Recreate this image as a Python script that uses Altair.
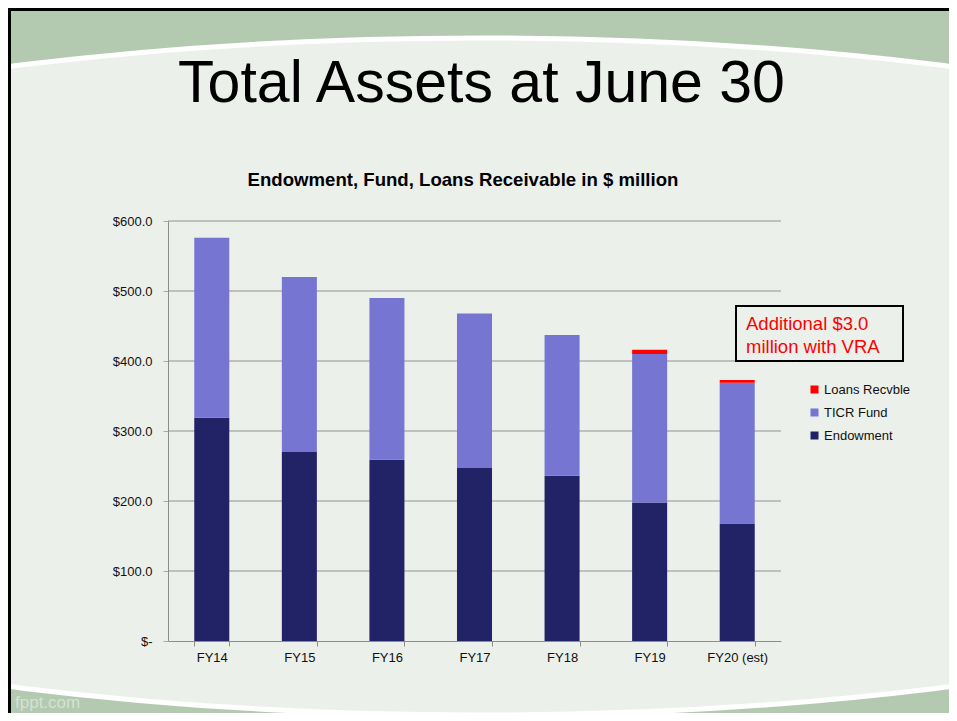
import altair as alt
import pandas as pd

FONT = "Liberation Sans, Arial, sans-serif"

years = ["FY14", "FY15", "FY16", "FY17", "FY18", "FY19", "FY20 (est)"]
endowment = [319, 270, 259, 247, 236, 198, 168]
ticr_fund = [257, 250, 231, 221, 201, 212, 201]
loans_recv = [0, 0, 0, 0, 0, 6, 4]
series = ["Endowment", "TICR Fund", "Loans Recvble"]
series_colors = ["#222266", "#7676D2", "#FF0000"]
y_ticks = [0, 100, 200, 300, 400, 500, 600]

rows = []
for i, yr in enumerate(years):
    for j, vals in enumerate([endowment, ticr_fund, loans_recv]):
        if vals[i] > 0:
            rows.append({"year": yr, "series": series[j], "value": vals[i], "order": j})
df = pd.DataFrame(rows)
one = pd.DataFrame({"a": [0]})

W, H = 613, 420
LIGHT = "#ECF0EB"
GREEN = "#B3C9B0"

ELLIPSE = ("M-3.456,0C-3.456,-0.5523,-1.909,-1,0,-1C1.909,-1,3.456,-0.5523,3.456,0"
           "C3.456,0.5523,1.909,1,0,1C-1.909,1,-3.456,0.5523,-3.456,0Z")

y_scale = alt.Scale(domain=[0, 600], nice=False)
y_axis = alt.Axis(title=None, values=y_ticks,
                  labelExpr="datum.value == 0 ? '$-' : '$' + format(datum.value, '.1f')",
                  labelFont=FONT, labelFontSize=13, labelColor="#111111",
                  labelPadding=11, tickSize=5, tickColor="#A8A8A8",
                  domainColor="#8C8C8C", grid=False, zindex=1)

backdrop = alt.Chart(one).mark_point(
    shape=ELLIPSE, size=458329, filled=True, fill=LIGHT, stroke="white",
    strokeWidth=5, opacity=1
).encode(x=alt.value(312), y=alt.value(155.5))

frame_top = alt.Chart(one).mark_rule(color="black", strokeWidth=3).encode(
    x=alt.value(-160), x2=alt.value(781), y=alt.value(-211.5))
frame_left = alt.Chart(one).mark_rule(color="black", strokeWidth=3).encode(
    x=alt.value(-158.5), y=alt.value(-213), y2=alt.value(492))

grid = alt.Chart(pd.DataFrame({"value": y_ticks[1:]})).mark_rule(
    color="#B0B0B0", strokeWidth=1.5
).encode(y=alt.Y("value:Q", axis=y_axis, scale=y_scale))

bars = alt.Chart(df).mark_bar().encode(
    x=alt.X("year:N", sort=years,
            scale=alt.Scale(paddingInner=0.6, paddingOuter=0.3),
            axis=alt.Axis(title=None, labelAngle=0, labelFont=FONT, labelFontSize=13,
                          labelColor="#111111", labelPadding=5, tickSize=5,
                          tickColor="#8C8C8C", domainColor="#8C8C8C", tickBand="extent",
                          grid=False, zindex=1)),
    y=alt.Y("value:Q", stack="zero", scale=y_scale, axis=y_axis),
    color=alt.Color("series:N",
                    scale=alt.Scale(domain=series[::-1], range=series_colors[::-1]),
                    legend=alt.Legend(title=None, orient="none", legendX=640, legendY=162,
                                      symbolType="square", symbolSize=64,
                                      symbolStrokeWidth=0, labelFont=FONT,
                                      labelFontSize=13, labelColor="#111111",
                                      rowPadding=9, labelOffset=3, padding=0)),
    order=alt.Order("order:Q", sort="ascending"),
)

note_box = alt.Chart(one).mark_rect(fill=LIGHT, stroke="black", strokeWidth=2).encode(
    x=alt.value(568), x2=alt.value(735), y=alt.value(85), y2=alt.value(140))
note1 = alt.Chart(one).mark_text(text="Additional $3.0", font=FONT, fontSize=18.5,
                                 color="#FF0000", align="left", baseline="alphabetic").encode(
    x=alt.value(578), y=alt.value(109))
note2 = alt.Chart(one).mark_text(text="million with VRA", font=FONT, fontSize=18.5,
                                 color="#FF0000", align="left", baseline="alphabetic").encode(
    x=alt.value(578), y=alt.value(131.5))

slide_title = alt.Chart(one).mark_text(text="Total Assets at June 30", font=FONT, fontSize=59,
                                       color="#000000", align="center",
                                       baseline="alphabetic").encode(
    x=alt.value(313.5), y=alt.value(-119))
chart_title = alt.Chart(one).mark_text(text="Endowment, Fund, Loans Receivable in $ million",
                                       font=FONT, fontSize=18.6, fontWeight="bold",
                                       color="#000000", align="center",
                                       baseline="alphabetic").encode(
    x=alt.value(295), y=alt.value(-35))
brand = alt.Chart(one).mark_text(text="fppt.com", font=FONT, fontSize=17,
                                 color="#D4E2D2", align="left", baseline="alphabetic").encode(
    x=alt.value(-153), y=alt.value(487))

chart = alt.layer(
    backdrop, frame_top, frame_left, grid, bars, note_box, note1, note2,
    slide_title, chart_title, brand
).properties(
    width=W, height=H,
    autosize=alt.AutoSizeParams(type="none"),
    padding={"left": 160, "top": 213, "right": 168, "bottom": 72},
    background=GREEN,
).configure_view(stroke=None)

chart.save("out.html", embed_options={"renderer": "svg", "actions": False})
